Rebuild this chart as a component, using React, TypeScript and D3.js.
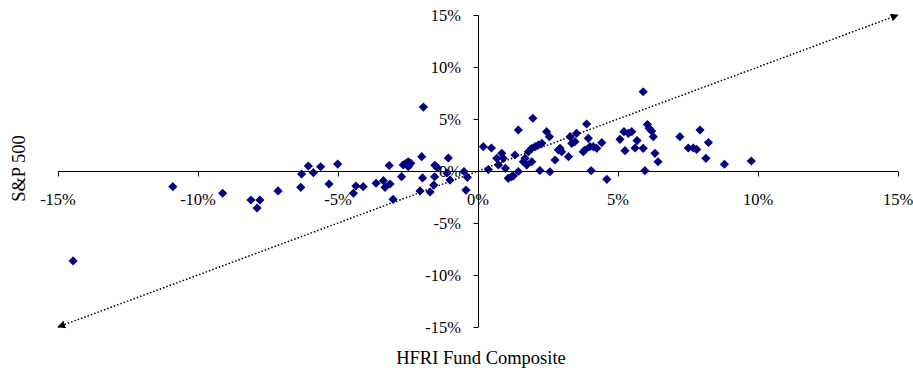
import React from 'react';
import * as d3 from 'd3';

// HFRI Fund Composite monthly return (%) vs S&P 500 monthly return (%)
const hfri = [
  -14.46, -10.9, -9.12, -8.11, -7.79, -7.89, -7.14, -6.33, -6.3, -6.06,
  -5.88, -5.62, -5.32, -5.01, -4.45, -4.36, -4.1, -3.64, -3.38, -3.32,
  -3.14, -3.17, -3.03, -2.73, -2.67, -2.57, -2.49, -2.4, -2.49, -2.01,
  -1.95, -1.98, -2.07, -1.71, -1.58, -1.55, -1.54, -1.45, -1.06, -1.11,
  -1.0, -0.5, -0.38, -0.43,
  0.19, 0.48, 0.37, 0.67, 0.73, 0.85, 0.9, 0.98, 1.08, 1.2,
  1.32, 1.44, 1.44, 1.26, 1.62, 1.68, 1.74, 1.8, 1.92, 1.92,
  1.96, 2.04, 2.15, 2.21, 2.28, 2.45, 2.55, 2.57, 2.75, 2.87,
  2.93, 2.99, 3.23, 3.29, 3.35, 3.46, 3.52, 3.88, 3.76, 3.82,
  3.94, 4.0, 4.04, 4.12, 4.24, 4.42, 4.6, 5.07, 5.25, 5.21,
  5.37, 5.49, 5.68, 5.61, 5.9, 5.9, 5.96, 6.05, 6.11, 6.2,
  6.26, 6.32, 6.43, 7.21, 7.51, 7.69, 7.81, 7.93, 8.14, 8.23,
  8.8, 9.76,
];

const sp500 = [
  -8.65, -1.51, -2.14, -2.79, -2.79, -3.56, -1.92, -1.57, -0.29, 0.48,
  -0.16, 0.41, -1.25, 0.67, -2.14, -1.44, -1.51, -1.18, -0.93, -1.57,
  -1.25, 0.53, -2.72, -0.55, 0.58, 0.74, 0.89, 0.74, 0.41, 1.38,
  6.15, -0.67, -1.92, -2.02, -1.35, -0.55, 0.55, 0.32, 1.25, -0.19,
  -0.87, -0.05, -0.61, -1.83,
  2.34, 2.21, 0.14, 1.22, 0.58, 1.7, 1.22, 0.26, -0.7, -0.55,
  1.54, 3.94, -0.05, -0.48, 0.89, 1.22, 0.58, 1.86, 2.18, 0.89,
  5.07, 2.34, 2.5, 0.05, 2.66, 3.78, 3.3, -0.07, 1.06, 2.02,
  2.18, 1.86, 1.38, 3.3, 2.66, 2.82, 3.62, 4.52, 1.86, 2.02,
  3.14, 2.34, 0.03, 2.34, 2.18, 2.72, -0.8, 3.05, 1.95, 3.78,
  3.62, 3.78, 2.93, 2.21, 2.18, 7.62, 0.03, 4.47, 4.11, 3.85,
  3.3, 1.7, 0.89, 3.3, 2.21, 2.21, 2.07, 3.94, 1.22, 2.74,
  0.65, 0.96,
];

const tickValues = [-15, -10, -5, 0, 5, 10, 15];
const xTitle = 'HFRI Fund Composite';
const yTitle = 'S&P 500';

const W = 913;
const H = 370;
const font = '"Liberation Serif", "Times New Roman", serif';

export default function App() {
  const x = d3.scaleLinear().domain([-15, 15]).range([58, 898]);
  const y = d3.scaleLinear().domain([-15, 15]).range([327, 15]);
  const x0 = Math.round(x(0)) + 0.5;
  const y0 = Math.round(y(0)) + 0.5;
  const fmt = (v: number) => `${v}%`;
  const r = 4.6;
  const diamond = (cx: number, cy: number) =>
    `M${cx},${cy - r}L${cx + r},${cy}L${cx},${cy + r}L${cx - r},${cy}Z`;

  return (
    <svg
      width={W}
      height={H}
      style={{ position: 'absolute', left: 0, top: 0, background: '#fff' }}
      fontFamily={font}
    >
      <defs>
        <marker
          id="arrow"
          viewBox="0 0 10 10"
          refX="9"
          refY="5"
          markerWidth="8"
          markerHeight="8"
          markerUnits="userSpaceOnUse"
          orient="auto-start-reverse"
        >
          <path d="M0,0L10,5L0,10Z" fill="#000" />
        </marker>
      </defs>

      {/* x axis */}
      <line x1={x(-15)} x2={x(15)} y1={y0} y2={y0} stroke="#000" />
      {tickValues.map((t) => (
        <g key={'xt' + t}>
          <line
            x1={Math.round(x(t)) + 0.5}
            x2={Math.round(x(t)) + 0.5}
            y1={y0}
            y2={y0 + 5}
            stroke="#000"
          />
          <text x={x(t)} y={205} textAnchor="middle" fontSize={16.5}>
            {fmt(t)}
          </text>
        </g>
      ))}

      {/* y axis */}
      <line x1={x0} x2={x0} y1={y(15)} y2={y(-15)} stroke="#000" />
      {tickValues.map((t) => (
        <g key={'yt' + t}>
          <line
            x1={x0 - 5}
            x2={x0}
            y1={Math.round(y(t)) + 0.5}
            y2={Math.round(y(t)) + 0.5}
            stroke="#000"
          />
          <text x={461} y={y(t)} dy="0.36em" textAnchor="end" fontSize={16.5}>
            {fmt(t)}
          </text>
        </g>
      ))}

      {/* points */}
      {hfri.map((v, i) => (
        <path key={i} d={diamond(x(v), y(sp500[i]))} fill="#000080" />
      ))}

      {/* 45 degree reference line */}
      <line
        x1={x(-15)}
        y1={y(-15)}
        x2={x(15)}
        y2={y(15)}
        stroke="#000"
        strokeWidth={1.5}
        strokeDasharray="1.5 2"
        markerStart="url(#arrow)"
        markerEnd="url(#arrow)"
      />

      <text
        transform="translate(25,168.5) rotate(-90)"
        textAnchor="middle"
        fontSize={18.5}
      >
        {yTitle}
      </text>
      <text x={481} y={364} textAnchor="middle" fontSize={18.5}>
        {xTitle}
      </text>
    </svg>
  );
}
